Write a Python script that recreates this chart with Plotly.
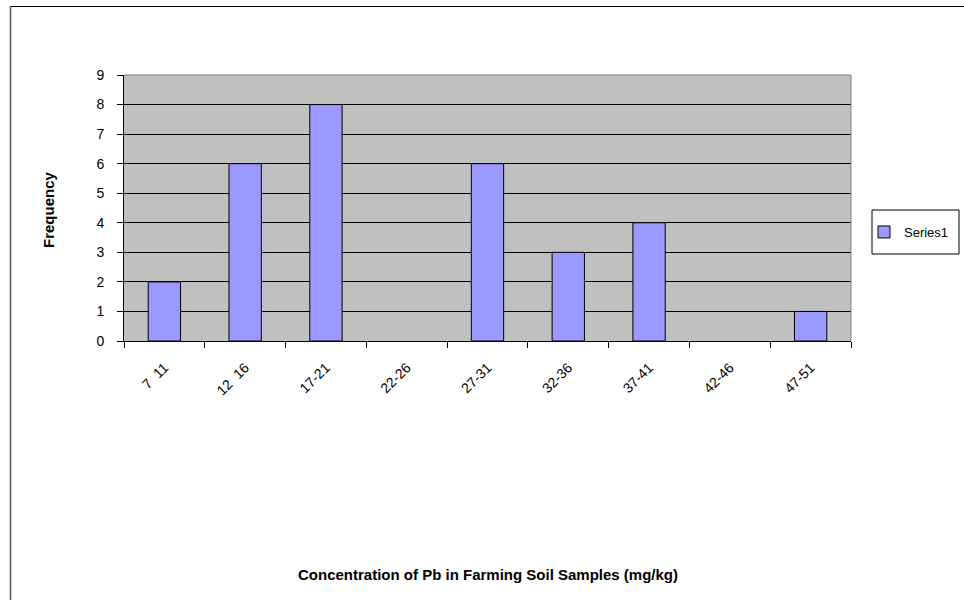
import plotly.graph_objects as go

# Frequency table of Pb concentration bins
bins = ["7\u00a0\u00a011", "12\u00a0\u00a016", "17-21", "22-26", "27-31", "32-36", "37-41", "42-46", "47-51"]
frequency = [2, 6, 8, 0, 6, 3, 4, 0, 1]
series_name = "Series1"
y_ticks = list(range(0, 10))

W, H = 964, 600
L, R, T, B = 124, 113, 75, 259
pw, ph = W - L - R, H - T - B


def px_x(x):
    return (x - L) / pw


def px_y(y):
    return (H - B - y) / ph


FAMILY = "Liberation Sans, Arial, sans-serif"
font = dict(family=FAMILY, size=14, color="black")

# empty bins get no outline so nothing is drawn on the baseline
outline_widths = [1 if v > 0 else 0 for v in frequency]

fig = go.Figure()
fig.add_trace(go.Bar(
    x=bins, y=frequency, name=series_name,
    marker=dict(color="#9999FF", line=dict(color="black", width=outline_widths)),
    showlegend=True,
))

fig.update_layout(
    width=W, height=H,
    margin=dict(l=L, r=R, t=T, b=B, pad=0, autoexpand=False),
    paper_bgcolor="white",
    plot_bgcolor="#C0C0C0",
    font=font,
    bargap=0.6,
    showlegend=True,
    legend=dict(
        x=px_x(864), y=px_y(232), xanchor="left", yanchor="middle",
        bgcolor="rgba(0,0,0,0)", borderwidth=0,
        font=dict(family=FAMILY, size=13, color="black"),
        itemwidth=30,
    ),
    xaxis=dict(
        type="category",
        tickson="boundaries",
        ticks="outside", ticklen=6, tickcolor="black",
        tickangle=-45,
        ticklabelstandoff=12,
        showline=True, linecolor="black", linewidth=1,
        showgrid=False, zeroline=False,
        tickfont=font,
    ),
    yaxis=dict(
        range=[0, 9],
        tickvals=y_ticks,
        ticks="outside", ticklen=6, tickcolor="black",
        ticklabelstandoff=10,
        showline=True, linecolor="black", linewidth=1,
        showgrid=True, gridcolor="black", gridwidth=1,
        zeroline=False,
        tickfont=font,
    ),
)

# Plot-area frame (top / right edges in grey)
fig.add_shape(type="line", xref="paper", yref="paper", x0=0, x1=1, y0=1, y1=1,
              line=dict(color="#808080", width=1), layer="above")
fig.add_shape(type="line", xref="paper", yref="paper", x0=1, x1=1, y0=0, y1=1,
              line=dict(color="#808080", width=1), layer="above")

# Legend frame
fig.add_shape(type="rect", xref="paper", yref="paper",
              x0=px_x(872), x1=px_x(959), y0=px_y(254), y1=px_y(210),
              line=dict(color="black", width=1), fillcolor="rgba(0,0,0,0)", layer="above")

# Chart-area border (top and left edges)
fig.add_shape(type="line", xref="paper", yref="paper",
              x0=px_x(10.5), x1=px_x(970), y0=px_y(6.5), y1=px_y(6.5),
              line=dict(color="black", width=1), layer="above")
fig.add_shape(type="line", xref="paper", yref="paper",
              x0=px_x(10.5), x1=px_x(10.5), y0=px_y(6.5), y1=px_y(610),
              line=dict(color="#555555", width=1.5), layer="above")

# Axis titles
bold = dict(family=FAMILY, size=15, color="black")
fig.add_annotation(text="<b>Concentration of Pb in Farming Soil Samples (mg/kg)</b>",
                   xref="paper", yref="paper", x=0.5, y=px_y(574),
                   xanchor="center", yanchor="middle", showarrow=False, font=bold)
fig.add_annotation(text="<b>Frequency</b>", textangle=-90,
                   xref="paper", yref="paper", x=px_x(48), y=px_y(210),
                   xanchor="center", yanchor="middle", showarrow=False, font=bold)

fig.write_html("out.html")
